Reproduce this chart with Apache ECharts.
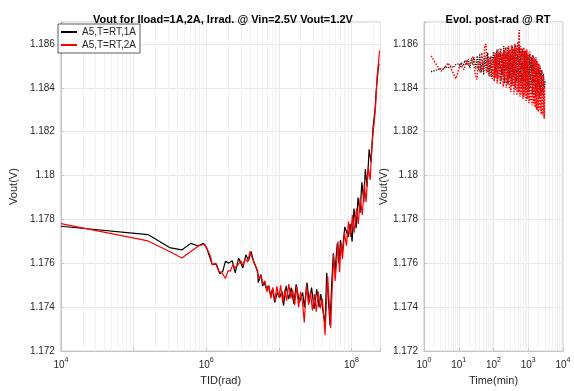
<!DOCTYPE html>
<html><head><meta charset="utf-8">
<script src="https://cdn.jsdelivr.net/npm/echarts@6/dist/echarts.min.js"></script>
<style>html,body{margin:0;padding:0;background:#fff}#c{width:574px;height:391px}</style>
</head><body><div id="c"></div>
<script>
const leftTitle = 'Vout for Iload=1A,2A, Irrad. @ Vin=2.5V Vout=1.2V';
const rightTitle = 'Evol. post-rad @ RT';
const seriesNames = ['A5,T=RT,1A', 'A5,T=RT,2A'];
const leftXName = 'TID(rad)';
const rightXName = 'Time(min)';
const yName = 'Vout(V)';

// Left panel: TID (rad) vs Vout (V)
const tidBlack = [1e4,1.58e5,3.13e5,4.59e5,6.14e5,7.74e5,9.14e5,1.01e6,1.13e6,1.21e6,1.38e6,1.54e6,1.69e6,1.84e6,2.04e6,2.28e6,2.51e6,2.79e6,3.00e6,3.19e6,3.51e6,3.82e6,4.14e6,4.46e6,4.80e6,5.11e6,5.21e6,5.66e6,5.97e6,6.30e6,6.76e6,7.13e6,7.74e6,8.17e6,8.77e6,9.55e6,1.03e7,1.10e7,1.16e7,1.26e7,1.36e7,1.48e7,1.61e7,1.73e7,1.92e7,2.13e7,2.24e7,2.44e7,2.62e7,2.82e7,3.06e7,3.33e7,3.58e7,3.78e7,4.06e7,4.33e7,4.56e7,4.81e7,5.06e7,5.33e7,5.62e7,5.92e7,6.37e7,6.70e7,7.06e7,7.45e7,8.09e7,8.71e7,9.0e7,9.57e7,1.02e8,1.08e8,1.16e8,1.23e8,1.31e8,1.39e8,1.48e8,1.55e8,1.64e8,1.75e8,1.86e8,1.98e8,2.11e8,2.18e8,2.25e8,2.32e8,2.39e8];
const voutBlack = [1.17769,1.17731,1.17672,1.17661,1.17691,1.17679,1.17691,1.17672,1.17624,1.17594,1.17597,1.17552,1.17564,1.17609,1.17601,1.17612,1.17557,1.17624,1.17601,1.17579,1.17639,1.17613,1.17654,1.17613,1.17587,1.17564,1.17512,1.17549,1.17497,1.17512,1.17482,1.17497,1.17452,1.17482,1.17422,1.17467,1.17444,1.17475,1.17407,1.17497,1.17437,1.17489,1.17415,1.17504,1.17422,1.17467,1.17400,1.17512,1.17422,1.17489,1.17392,1.17482,1.17400,1.17460,1.17378,1.17330,1.17557,1.17437,1.17318,1.17504,1.17646,1.17557,1.17691,1.17601,1.17706,1.17646,1.17766,1.17736,1.1772,1.1778,1.1770,1.1785,1.1776,1.1790,1.1783,1.1797,1.1788,1.1803,1.1795,1.1812,1.1806,1.1822,1.1830,1.1838,1.1843,1.1848,1.1851];
const tidRed = [1e4,1.58e5,3.13e5,4.63e5,7.98e5,9.5e5,1.04e6,1.15e6,1.21e6,1.34e6,1.49e6,1.65e6,1.84e6,2.0e6,2.15e6,2.33e6,2.51e6,2.79e6,3.0e6,3.19e6,3.45e6,3.73e6,4.01e6,4.30e6,4.57e6,4.94e6,5.35e6,5.69e6,6.06e6,6.45e6,6.87e6,7.31e6,7.78e6,8.28e6,8.83e6,9.39e6,1.00e7,1.06e7,1.13e7,1.21e7,1.28e7,1.37e7,1.46e7,1.55e7,1.65e7,1.76e7,1.87e7,1.99e7,2.12e7,2.24e7,2.40e7,2.56e7,2.72e7,2.90e7,3.08e7,3.28e7,3.49e7,3.72e7,3.96e7,4.15e7,4.32e7,4.49e7,4.71e7,4.93e7,5.17e7,5.42e7,5.68e7,5.95e7,6.23e7,6.53e7,6.85e7,7.18e7,7.52e7,8.00e7,8.53e7,9.08e7,9.66e7,1.03e8,1.09e8,1.17e8,1.24e8,1.32e8,1.41e8,1.50e8,1.59e8,1.70e8,1.81e8,1.92e8,2.05e8,2.15e8,2.25e8,2.36e8,2.43e8];
const voutRed = [1.17781,1.17702,1.17654,1.17624,1.17681,1.17687,1.17662,1.17631,1.17594,1.17601,1.17564,1.17557,1.17531,1.17567,1.17564,1.17594,1.17579,1.17597,1.17612,1.17590,1.17620,1.17605,1.17654,1.17625,1.17600,1.17575,1.17530,1.17545,1.17505,1.17520,1.17470,1.17500,1.17440,1.17490,1.17430,1.17495,1.17445,1.17500,1.17420,1.17480,1.17430,1.17505,1.17440,1.17480,1.17410,1.17495,1.17400,1.17470,1.17420,1.17330,1.17500,1.17410,1.17470,1.17385,1.17460,1.17380,1.17470,1.17395,1.17440,1.17360,1.17273,1.17400,1.17540,1.17420,1.17305,1.17480,1.17640,1.17520,1.17600,1.17700,1.17560,1.17690,1.17620,1.17740,1.17680,1.17790,1.17720,1.17820,1.17740,1.17850,1.17780,1.17900,1.17820,1.17960,1.17880,1.18040,1.17980,1.18150,1.18240,1.18320,1.18450,1.18520,1.18570];

// Right panel: time (min) vs Vout (V)
const timeBlack = [1.6,2.2,2.8,3.5,4.2,5,6,7,8,9,10,11,12,13.5,15,17,19,21,23,25,28,31,34,37,40,44,48,52,57,62,68,74,80,87,93,
  100,106,112,118,125,132,140,148,157,166,176,186,197,209,221,234,248,262,278,294,311,330,349,370,391,414,439,465,492,521,552,585,619,656,694,735,779,825,873,925,980,1037,1099,1163,1232,1305,1382,1463,1550,1641,1738,1841,1949,2064,2186,2315,2452,2596,2750,2912,3084];
const evolBlack = [1.18473,1.18480,1.18487,1.18484,1.18496,1.18490,1.18500,1.18492,1.18505,1.18498,1.18510,1.18495,1.18515,1.18500,1.18525,1.18505,1.18530,1.18490,1.18535,1.18505,1.18540,1.18485,1.18545,1.18480,1.18555,1.18470,1.18520,1.18460,1.18545,1.18470,1.18560,1.18455,1.18540,1.18450,1.18530,
  1.18565,1.18450,1.18540,1.18470,1.18575,1.18440,1.18555,1.18500,1.18580,1.18430,1.18560,1.18460,1.18590,1.18420,1.18545,1.18480,1.18585,1.18415,1.18570,1.18440,1.18560,1.18410,1.18590,1.18450,1.18575,1.18405,1.18596,1.18430,1.18580,1.18400,1.18590,1.18420,1.18570,1.18395,1.18575,1.18430,1.18560,1.18390,1.18565,1.18410,1.18550,1.18380,1.18555,1.18400,1.18540,1.18370,1.18545,1.18390,1.18530,1.18360,1.18525,1.18375,1.18510,1.18350,1.18500,1.18365,1.18480,1.18380,1.18465,1.18400,1.18430];
const timeRed = [1.6,2.0,2.5,3.2,4.0,5.0,6.0,7.2,8.3,9.5,11,12.5,14,15.5,17,19,21,23,26,29,33,37,41,46,51,56,61,66,72,78,85,92,
  100,105,110,116,122,128,135,142,149,157,165,173,182,191,201,212,223,234,246,259,272,286,301,317,333,350,368,387,407,428,450,473,497,523,535,550,578,608,639,672,707,743,781,821,863,908,955,1004,1055,1110,1167,1227,1290,1356,1426,1499,1576,1657,1742,1832,1926,2025,2129,2238,2353,2474,2601,2735,2875,3000];
const evolRed = [1.18546,1.18520,1.18495,1.18476,1.18495,1.18513,1.18490,1.18460,1.18442,1.18470,1.18513,1.18495,1.18483,1.18505,1.18528,1.18500,1.18491,1.18520,1.18543,1.18470,1.18438,1.18520,1.18470,1.18560,1.18480,1.18590,1.18600,1.18470,1.18540,1.18450,1.18545,1.18440,
  1.18535,1.18430,1.18560,1.18445,1.18550,1.18420,1.18575,1.18440,1.18560,1.18415,1.18580,1.18450,1.18555,1.18405,1.18570,1.18430,1.18585,1.18400,1.18560,1.18420,1.18590,1.18395,1.18575,1.18380,1.18595,1.18410,1.18580,1.18370,1.18600,1.18390,1.18585,1.18365,1.18610,1.18380,1.18640,1.18663,1.18360,1.18590,1.18370,1.18580,1.18350,1.18585,1.18360,1.18570,1.18340,1.18575,1.18350,1.18560,1.18330,1.18565,1.18340,1.18545,1.18320,1.18550,1.18330,1.18535,1.18310,1.18540,1.18300,1.18520,1.18290,1.18510,1.18300,1.18490,1.18280,1.18480,1.18275,1.18450,1.18259,1.18410];

const yMin = 1.172, yMax = 1.187, yStep = 0.002;
const leftXMin = 1e4, leftXMax = 2.5e8;
const rightXMin = 1, rightXMax = 1e4;

const FONT = 'Liberation Sans, Arial, Helvetica, sans-serif';
const TXT = '#262626';
const GRIDC = '#e9e9e9';
const AXC = '#c4c4c4';

function zip(a, b) { const n = Math.min(a.length, b.length); const o = []; for (let i = 0; i < n; i++) o.push([a[i], b[i]]); return o; }
function minorLines(lo, hi) {
  const out = [];
  for (let e = Math.floor(Math.log10(lo)); e <= Math.ceil(Math.log10(hi)); e++) {
    for (let m = 2; m <= 9; m++) { const v = m * Math.pow(10, e); if (v > lo && v < hi) out.push({ xAxis: v }); }
  }
  return out;
}
function supFmt(step) {
  return function (v) {
    const e = Math.log10(v), r = Math.round(e);
    if (Math.abs(e - r) > 1e-6 || r % step !== 0) return '';
    return '{b|10}{s|' + r + '}';
  };
}
const richSup = {
  b: { fontSize: 10, color: TXT, fontFamily: FONT, lineHeight: 14, verticalAlign: 'bottom' },
  s: { fontSize: 7, color: TXT, fontFamily: FONT, lineHeight: 14, verticalAlign: 'top', padding: [0, 0, 4, 0] }
};
function yFmt(v) {
  const k = Math.round((v - yMin) / yStep);
  if (Math.abs(v - (yMin + k * yStep)) > 1e-7) return '';
  return String(parseFloat(v.toFixed(3)));
}
function xAxisCfg(idx, min, max, name, step) {
  return {
    type: 'log', logBase: 10, gridIndex: idx, min: min, max: max,
    name: name, nameLocation: 'middle', nameGap: 22,
    nameTextStyle: { fontSize: 11, color: TXT, fontFamily: FONT },
    axisLine: { show: true, lineStyle: { color: AXC, width: 1 } },
    axisTick: { show: true, inside: true, length: 3, lineStyle: { color: AXC } },
    axisLabel: { formatter: supFmt(step), rich: richSup, margin: 5, showMaxLabel: true },
    splitLine: { show: true, lineStyle: { color: GRIDC, width: 1 } }
  };
}
function yAxisCfg(idx) {
  return {
    type: 'value', gridIndex: idx, min: yMin, max: yMax, interval: yStep,
    name: yName, nameLocation: 'middle', nameGap: 30, nameRotate: 90,
    nameTextStyle: { fontSize: 11, color: TXT, fontFamily: FONT },
    axisLine: { show: true, lineStyle: { color: AXC, width: 1 } },
    axisTick: { show: true, inside: true, length: 3, lineStyle: { color: AXC } },
    axisLabel: { formatter: yFmt, fontSize: 10, color: TXT, fontFamily: FONT, margin: 6 },
    splitLine: { show: true, lineStyle: { color: GRIDC, width: 1 } }
  };
}
function gridSeries(xi, lo, hi) {
  return {
    type: 'line', xAxisIndex: xi, yAxisIndex: xi, data: [[lo, yMin]], symbol: 'none', silent: true,
    lineStyle: { opacity: 0 }, z: 1, tooltip: { show: false },
    markLine: { silent: true, z: 1, symbol: 'none', label: { show: false }, animation: false,
      lineStyle: { color: '#f1f1f1', width: 1, type: 'solid' }, data: minorLines(lo, hi) }
  };
}
function dataSeries(name, xi, xs, ys, color, w, type) {
  return { name: name, type: 'line', xAxisIndex: xi, yAxisIndex: xi, data: zip(xs, ys),
    showSymbol: false, symbol: 'none', z: 3, lineStyle: { color: color, width: w, type: type || 'solid' }, itemStyle: { color: color } };
}

const chart = echarts.init(document.getElementById('c'), null, { renderer: 'canvas' });
chart.setOption({
  animation: false,
  backgroundColor: '#fff',
  title: [
    { text: leftTitle, left: 218, top: 9, textAlign: 'center', textStyle: { fontSize: 11, fontWeight: 'bold', color: '#000', fontFamily: FONT } },
    { text: rightTitle, left: 493, top: 9, textAlign: 'center', textStyle: { fontSize: 11, fontWeight: 'bold', color: '#000', fontFamily: FONT } }
  ],
  legend: {
    z: 10, data: seriesNames, orient: 'vertical', left: 58, top: 24, itemWidth: 16, itemHeight: 2, itemGap: 3,
    icon: 'rect', backgroundColor: '#fff', borderColor: '#333', borderWidth: 0.8, padding: [3, 4, 3, 3],
    textStyle: { fontSize: 10, color: '#262626', fontFamily: FONT }, selectedMode: false
  },
  grid: [
    { left: 56.7, top: 22, width: 323.7, height: 335, show: true, borderColor: AXC, borderWidth: 1, backgroundColor: 'transparent' },
    { left: 424, top: 22, width: 139, height: 335, show: true, borderColor: AXC, borderWidth: 1, backgroundColor: 'transparent' }
  ],
  xAxis: [xAxisCfg(0, leftXMin, leftXMax, leftXName, 2), xAxisCfg(1, rightXMin, rightXMax, rightXName, 1)],
  yAxis: [yAxisCfg(0), yAxisCfg(1)],
  series: [
    gridSeries(0, leftXMin, leftXMax),
    gridSeries(1, rightXMin, rightXMax),
    dataSeries(seriesNames[0], 0, tidBlack, voutBlack, '#000000', 1.2),
    dataSeries(seriesNames[1], 0, tidRed, voutRed, '#ff0000', 1.2),
    dataSeries(seriesNames[0], 1, timeBlack, evolBlack, '#000000', 1.2, 'dotted'),
    dataSeries(seriesNames[1], 1, timeRed, evolRed, '#ff0000', 1.5, 'dotted')
  ]
});
</script></body></html>
